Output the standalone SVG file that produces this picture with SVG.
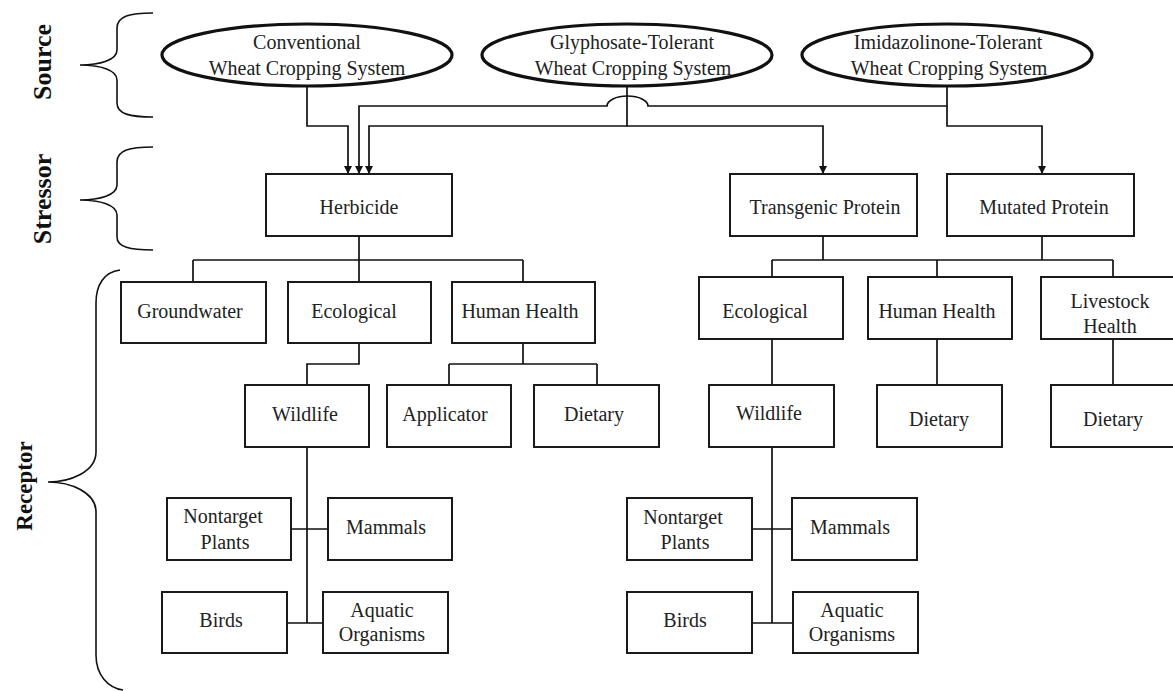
<svg xmlns="http://www.w3.org/2000/svg" width="1173" height="691" viewBox="0 0 1173 691">
<style>
.box{fill:#fff;stroke:#1a1a1a;stroke-width:2}
.ell{fill:#fff;stroke:#111;stroke-width:3.2}
.t{font-family:"Liberation Serif","Times New Roman",serif;font-size:20px;fill:#222;text-anchor:middle}
.side{font-family:"Liberation Serif","Times New Roman",serif;font-weight:bold;fill:#111;text-anchor:middle}
.c{fill:none;stroke:#111;stroke-width:1.7}
.br{fill:none;stroke:#111;stroke-width:1.6}
</style>
<defs>
<marker id="arr" markerUnits="userSpaceOnUse" markerWidth="9" markerHeight="9" refX="8" refY="4" orient="auto">
<path d="M0,0 L8,4 L0,8 z" fill="#111"/>
</marker>
</defs>
<rect width="1173" height="691" fill="#fff"/>

<g id="braces">
<path class="br" d="M153,13 C130,13 117,16 117,28 L117,50 C117,60 100,65 80,65 C100,65 117,70 117,80 L117,103 C117,114 130,117 153,117"/>
<path class="br" d="M153,147 C130,147 117,150 117,162 L117,185 C117,195 100,200 80,200 C100,200 117,205 117,215 L117,237 C117,247 130,250 153,250"/>
<path class="br" d="M120,270 C104,272 96,285 96,303 L96,452 C96,472 70,482 48,482 C70,482 96,492 96,512 L96,655 C96,675 108,688 123,690"/>
</g>
<g id="side-labels">
<text class="side" font-size="26" transform="translate(51,62) rotate(-90)">Source</text>
<text class="side" font-size="26" transform="translate(51,199) rotate(-90)">Stressor</text>
<text class="side" font-size="23" transform="translate(32,486) rotate(-90)">Receptor</text>
</g>

<g id="connectors">
<!-- source to stressor -->
<path class="c" d="M307,86 V126 H348 V174" marker-end="url(#arr)"/>
<path class="c" d="M947,86 V106 H648 A20.5,10 0 0 0 607,106 H359 V174" marker-end="url(#arr)"/>
<path class="c" d="M627,86 V126 H369 V174" marker-end="url(#arr)"/>
<path class="c" d="M627,126 H823 V174" marker-end="url(#arr)"/>
<path class="c" d="M947,106 V126 H1042 V174" marker-end="url(#arr)"/>
<!-- herbicide tree -->
<path class="c" d="M359,236 V260 M193,260 H523 M193,260 V282 M359,260 V282 M523,260 V282"/>
<path class="c" d="M359,343 V364 H307 V385"/>
<path class="c" d="M523,343 V364 M449,364 H597 M449,364 V385 M597,364 V385"/>
<path class="c" d="M307,447 V623 M287,529 H328 M287,623 H325"/>
<!-- protein trees -->
<path class="c" d="M823,236 V260 M1042,236 V260 M772,260 H1113 M772,260 V277 M937,260 V277 M1113,260 V277"/>
<path class="c" d="M772,339 V385 M937,339 V385 M1113,332 V385"/>
<path class="c" d="M772,447 V623 M752,529 H792 M752,623 H793"/>
</g>

<g id="n-conventional"><ellipse class="ell" cx="307" cy="55" rx="145" ry="31"/><text class="t" x="307" y="49">Conventional</text><text class="t" x="307" y="75">Wheat Cropping System</text></g>
<g id="n-glyphosate"><ellipse class="ell" cx="627" cy="55" rx="145" ry="31"/><text class="t" x="632" y="49">Glyphosate-Tolerant</text><text class="t" x="633" y="75">Wheat Cropping System</text></g>
<g id="n-imidazolinone"><ellipse class="ell" cx="947" cy="55" rx="145" ry="31"/><text class="t" x="948" y="49">Imidazolinone-Tolerant</text><text class="t" x="949" y="75">Wheat Cropping System</text></g>

<g id="n-herbicide"><rect class="box" x="266" y="174" width="186" height="62"/><text class="t" x="359" y="214">Herbicide</text></g>
<g id="n-transgenic"><rect class="box" x="730" y="174" width="187" height="62"/><text class="t" x="825" y="214">Transgenic Protein</text></g>
<g id="n-mutated"><rect class="box" x="947" y="174" width="187" height="62"/><text class="t" x="1044" y="214">Mutated Protein</text></g>

<g id="n-groundwater"><rect class="box" x="121" y="282" width="145" height="61"/><text class="t" x="190" y="318">Groundwater</text></g>
<g id="n-ecological1"><rect class="box" x="288" y="282" width="143" height="61"/><text class="t" x="354" y="318">Ecological</text></g>
<g id="n-humanhealth1"><rect class="box" x="452" y="282" width="143" height="61"/><text class="t" x="520" y="318">Human Health</text></g>
<g id="n-wildlife1"><rect class="box" x="245" y="385" width="124" height="62"/><text class="t" x="305" y="421">Wildlife</text></g>
<g id="n-applicator"><rect class="box" x="387" y="385" width="124" height="62"/><text class="t" x="445" y="421">Applicator</text></g>
<g id="n-dietary1"><rect class="box" x="534" y="385" width="125" height="62"/><text class="t" x="594" y="421">Dietary</text></g>
<g id="n-nontarget1"><rect class="box" x="167" y="498" width="124" height="62"/><text class="t" x="223" y="523">Nontarget</text><text class="t" x="225" y="549">Plants</text></g>
<g id="n-mammals1"><rect class="box" x="328" y="498" width="124" height="62"/><text class="t" x="386" y="534">Mammals</text></g>
<g id="n-birds1"><rect class="box" x="162" y="592" width="125" height="61"/><text class="t" x="221" y="627">Birds</text></g>
<g id="n-aquatic1"><rect class="box" x="323" y="592" width="125" height="61"/><text class="t" x="382" y="617">Aquatic</text><text class="t" x="382" y="641">Organisms</text></g>

<g id="n-ecological2"><rect class="box" x="699" y="277" width="144" height="62"/><text class="t" x="765" y="318">Ecological</text></g>
<g id="n-humanhealth2"><rect class="box" x="868" y="277" width="144" height="62"/><text class="t" x="937" y="318">Human Health</text></g>
<g id="n-livestock"><rect class="box" x="1041" y="277" width="144" height="62"/><text class="t" x="1110" y="308">Livestock</text><text class="t" x="1110" y="333">Health</text></g>
<g id="n-wildlife2"><rect class="box" x="709" y="385" width="125" height="62"/><text class="t" x="769" y="420">Wildlife</text></g>
<g id="n-dietary2"><rect class="box" x="877" y="385" width="125" height="62"/><text class="t" x="939" y="426">Dietary</text></g>
<g id="n-dietary3"><rect class="box" x="1051" y="385" width="124" height="62"/><text class="t" x="1113" y="426">Dietary</text></g>
<g id="n-nontarget2"><rect class="box" x="627" y="498" width="125" height="62"/><text class="t" x="683" y="524">Nontarget</text><text class="t" x="685" y="549">Plants</text></g>
<g id="n-mammals2"><rect class="box" x="792" y="498" width="125" height="62"/><text class="t" x="850" y="534">Mammals</text></g>
<g id="n-birds2"><rect class="box" x="627" y="592" width="125" height="61"/><text class="t" x="685" y="627">Birds</text></g>
<g id="n-aquatic2"><rect class="box" x="793" y="592" width="125" height="61"/><text class="t" x="852" y="617">Aquatic</text><text class="t" x="852" y="641">Organisms</text></g>
</svg>
